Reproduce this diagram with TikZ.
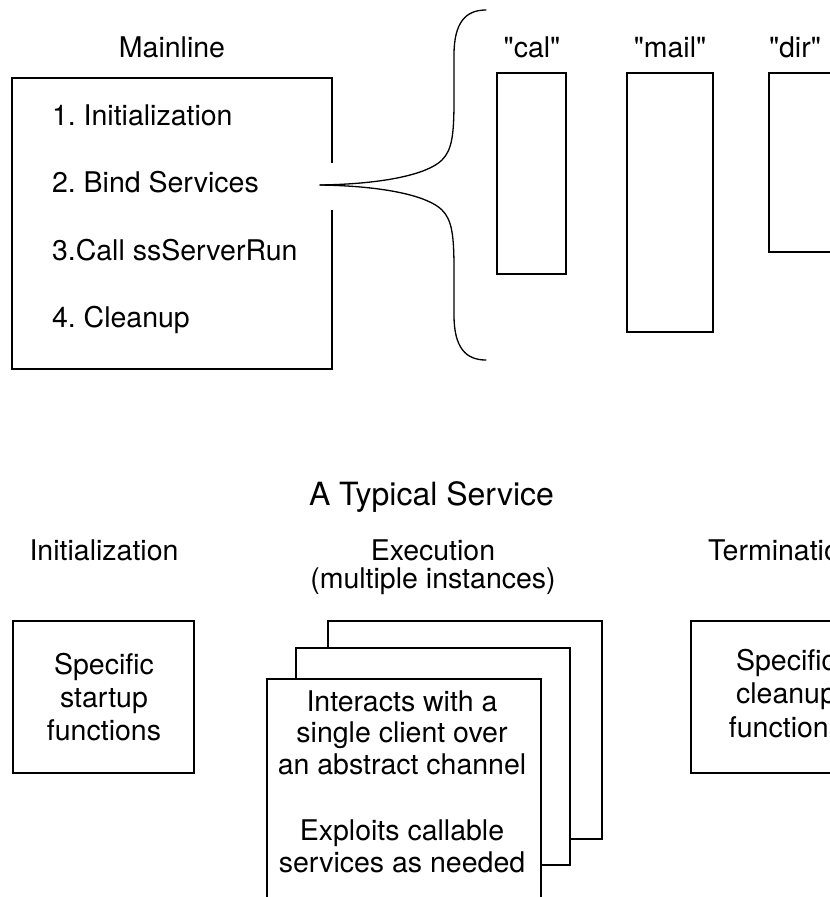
\documentclass[tikz,border=0pt]{standalone}
\usepackage{fontspec}
\setmainfont{TeX Gyre Heros}[Ligatures=TeXOff]
\frenchspacing
\usetikzlibrary{calc}
\tikzset{
  boxline/.style={line width=1.8pt, line join=miter},
  outline/.style={inner sep=0pt, outer sep=0pt},
  rect/.style={boxline, draw=black, fill=white, inner sep=0pt, outer sep=0pt},
  lbl/.style={inner sep=0pt, outer sep=0pt, anchor=base, font=\fontsize{28.5}{33}\selectfont},
  title/.style={inner sep=0pt, outer sep=0pt, anchor=base, font=\fontsize{32}{36}\selectfont},
  bracestyle/.style={line width=1.3pt, line cap=round}
}
\begin{document}
\frenchspacing
\begin{tikzpicture}[x=1pt,y=-1pt]
\clip (0,0) rectangle (830,897);
\fill[white] (0,0) rectangle (830,897);

% ---- Mainline box with gap on right side
\node[outline, minimum width=320pt, minimum height=291pt] (main) at (172,223.5) {};
\draw[boxline] ($(main.north east)+(0,85)$) -- (main.north east) -- (main.north west)
   -- (main.south west) -- (main.south east) -- ($(main.south east)+(0,-159)$);
\node[lbl] (mainlbl) at (172,57) {Mainline};
\node[lbl, anchor=base west] (it1) at (52,125) {1. Initialization};
\node[lbl, anchor=base west] (it2) at (52,192) {2. Bind Services};
\node[lbl, anchor=base west] (it3) at (52,260) {3.Call ssServerRun};
\node[lbl, anchor=base west] (it4) at (52,327) {4. Cleanup};

% ---- Brace
\coordinate (tip) at (320,185);
\coordinate (btop) at (486,10);
\coordinate (bbot) at (486,360);
\draw[bracestyle] (tip) .. controls (385,184) and (428,174) .. (442,160)
   .. controls (452,150) and (454,135) .. (454,100)
   -- (454,55) .. controls (454,22) and (466,10) .. (btop);
\draw[bracestyle] (tip) .. controls (385,186) and (428,196) .. (442,210)
   .. controls (452,220) and (454,235) .. (454,270)
   -- (454,315) .. controls (454,348) and (466,360) .. (bbot);

% ---- Service boxes
\node[lbl] (callbl) at (532,57) {"cal"};
\node[lbl] (maillbl) at (670,57) {"mail"};
\node[lbl, anchor=base west] (dirlbl) at (769,57) {"dir"};
\node[rect, minimum width=69pt, minimum height=201pt] (cal) at (531.5,173.5) {};
\node[rect, minimum width=86pt, minimum height=259pt] (mail) at (670,202.5) {};
\node[rect, minimum width=86pt, minimum height=179pt] (dir) at (812,162.5) {};

% ---- A Typical Service
\node[title] (svc) at (431.5,505) {A Typical Service};
\node[lbl] (initlbl) at (104,560) {Initialization};
\node[lbl, align=center, font=\fontsize{28.5}{27.5}\selectfont] (execlbl) at (433,588) {Execution\\(multiple instances)};
\node[lbl, anchor=base west] (termlbl) at (708,560) {Termination};

\node[rect, minimum width=181pt, minimum height=152pt] (initbox) at (103.5,697) {};
\node[lbl, align=center] (inittxt) at (104,740) {Specific\\startup\\functions};

\node[rect, minimum width=181pt, minimum height=152pt] (termbox) at (781.5,697) {};
\node[lbl, align=center, font=\fontsize{28.5}{33.5}\selectfont] (termtxt) at (786,737) {Specific\\cleanup\\functions};

\node[rect, minimum width=274pt, minimum height=218pt] (back) at (465,730) {};
\node[rect, minimum width=274pt, minimum height=217pt] (mid) at (433,756.5) {};
\node[rect, minimum width=274pt, minimum height=251pt] (front) at (404,804.5) {};
\node[lbl, align=center, font=\fontsize{28.5}{31.5}\selectfont] (fronttxt) at (402,872)
  {Interacts with a\\single client over\\an abstract channel\\[35pt]Exploits callable\\services as needed};
\end{tikzpicture}
\end{document}
